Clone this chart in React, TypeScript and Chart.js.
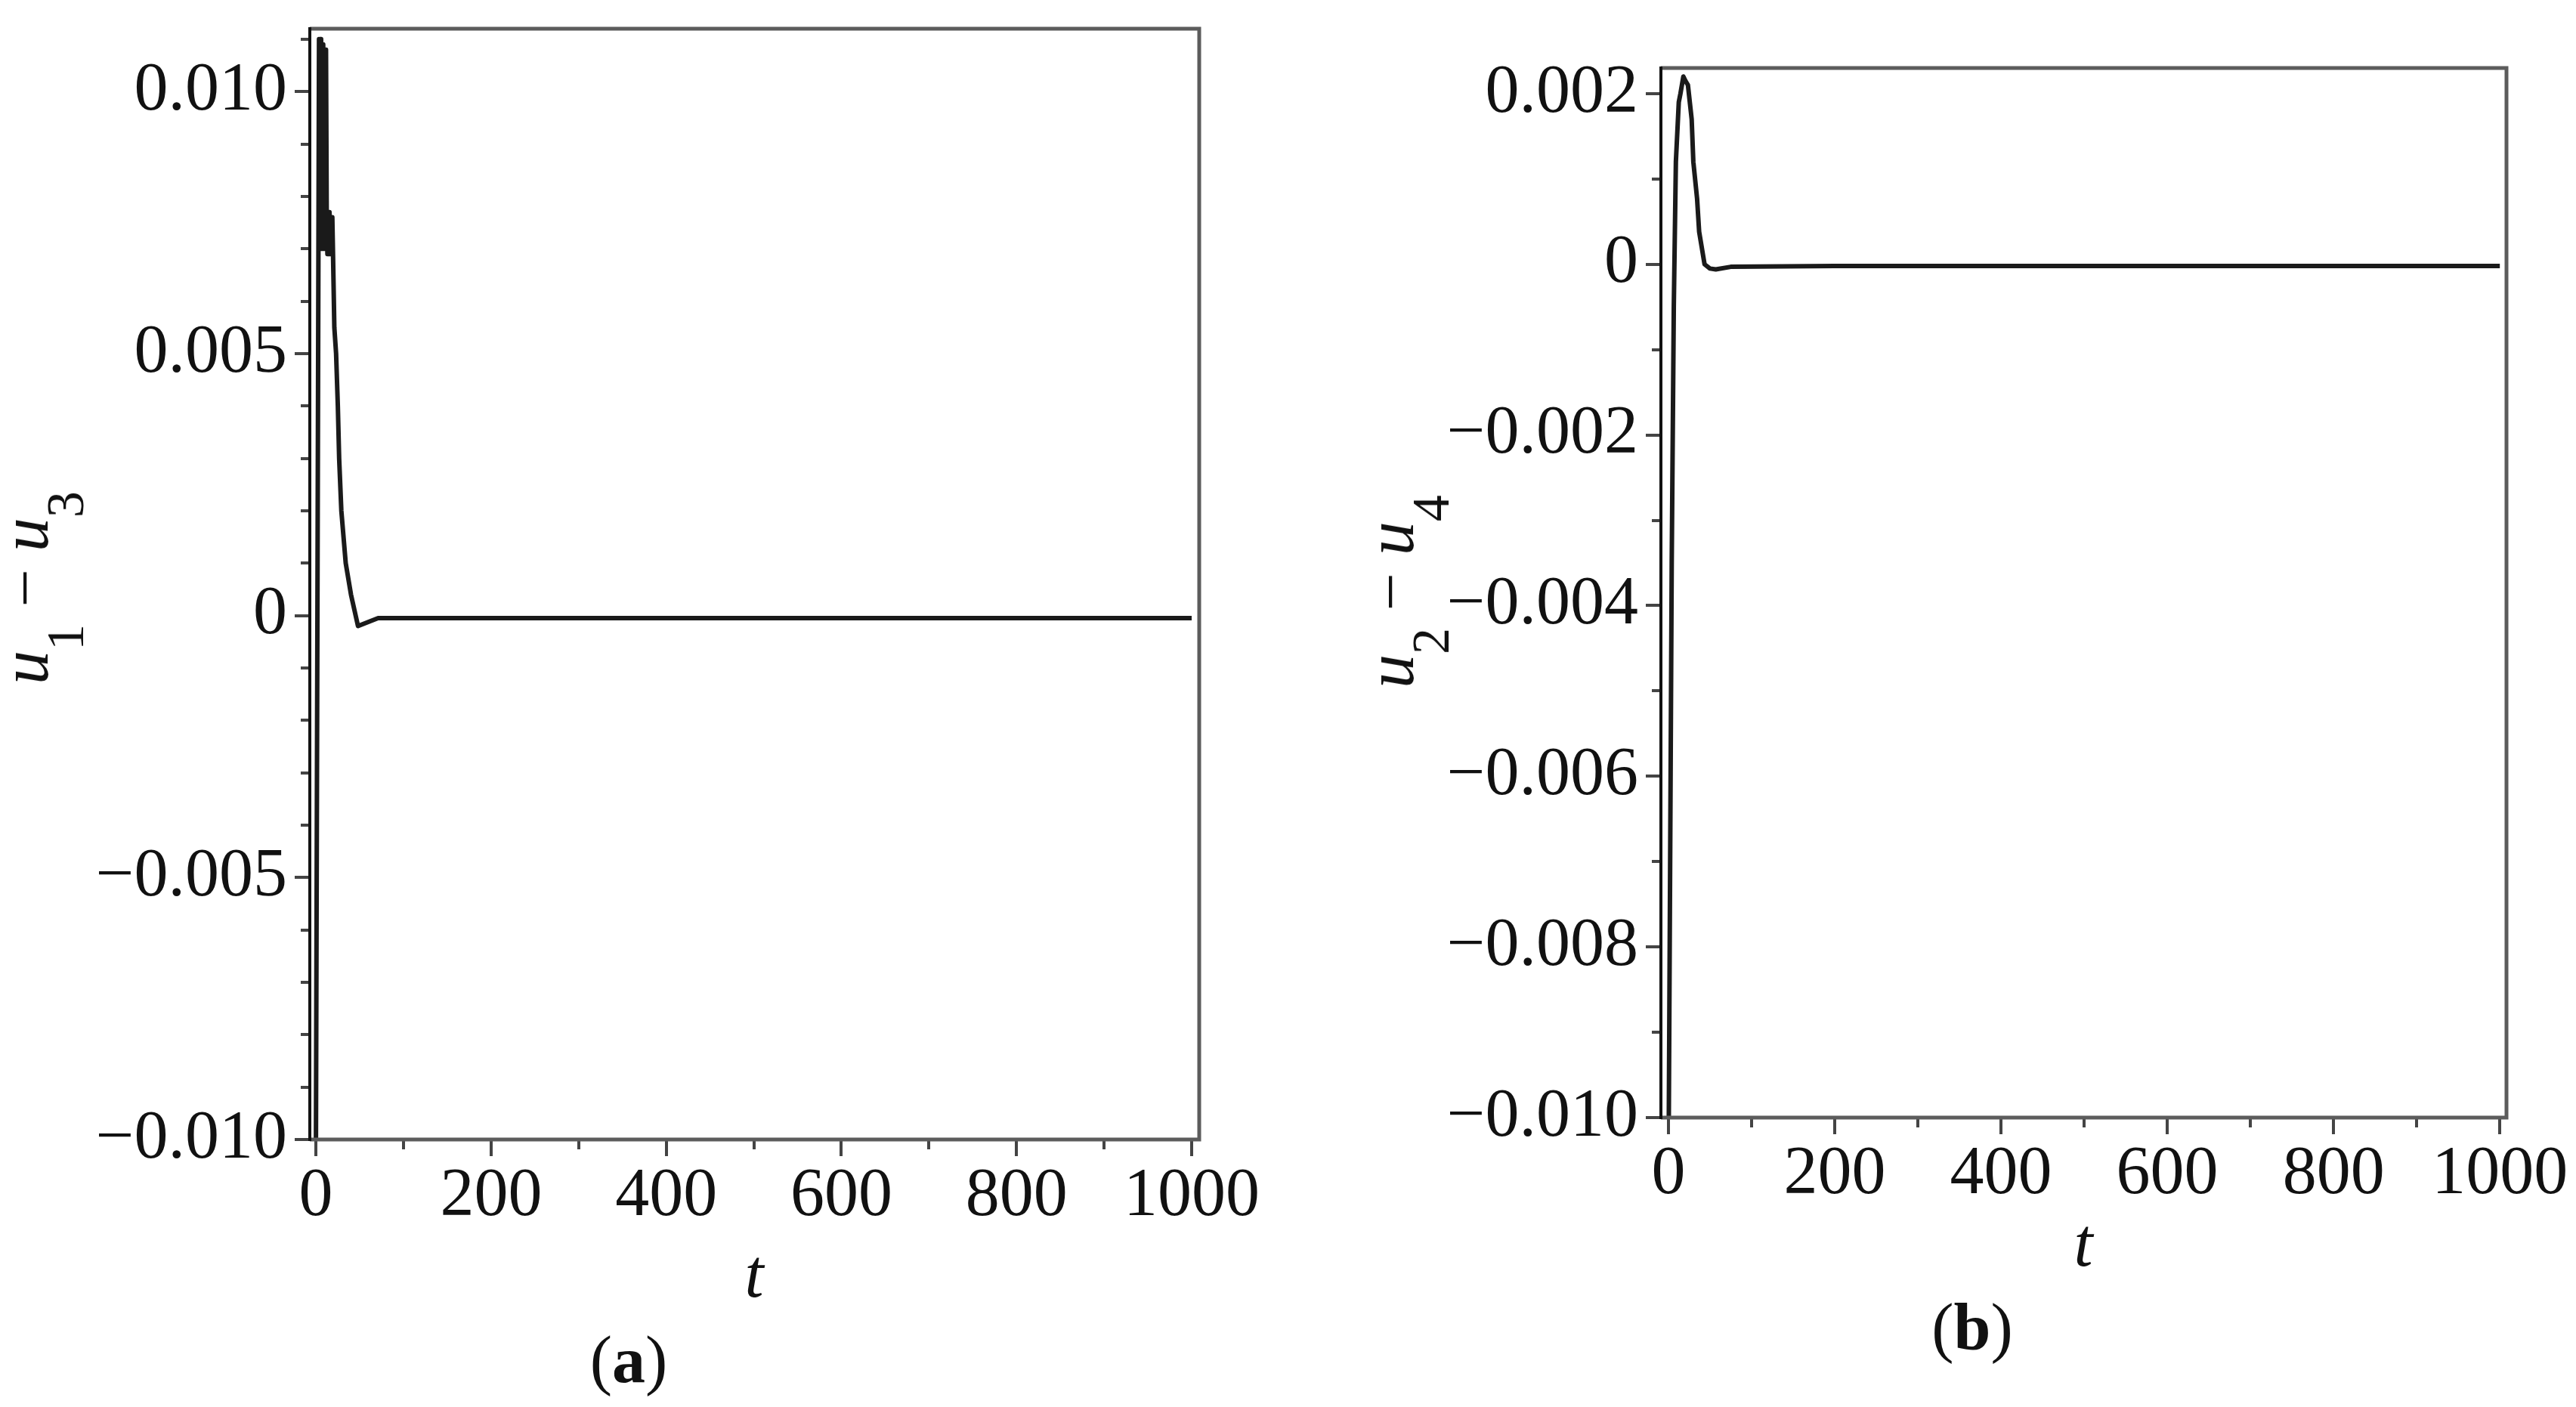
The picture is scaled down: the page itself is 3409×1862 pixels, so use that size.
import React, { useEffect, useRef } from "react";
import { Chart, registerables } from "chart.js";

Chart.register(...registerables);

// ---------- data ----------
const xTicks = [0, 100, 200, 300, 400, 500, 600, 700, 800, 900, 1000];
const xMajor = [0, 200, 400, 600, 800, 1000];

// panel (a): u1 - u3
const tA = [0, 3.5, 4.3, 5.1, 5.9, 6.7, 7.5, 8.3, 9.1, 9.9, 10.7, 11.5, 12.3, 13.1, 13.9, 14.7, 15.5, 16.3, 17.1, 17.9, 18.7, 19.5, 21, 23, 25, 26.5, 29, 34, 40, 48, 60, 71, 200, 400, 600, 800, 1000];
const uA = [-0.01, 0.011, 0.007, 0.011, 0.007, 0.0109, 0.007, 0.0109, 0.007, 0.0108, 0.007, 0.0108, 0.0077, 0.0069, 0.0077, 0.0069, 0.0077, 0.0069, 0.0076, 0.0069, 0.0076, 0.0069, 0.0055, 0.005, 0.004, 0.003, 0.002, 0.001, 0.0004, -0.0002, -0.00012, -0.00005, -0.00005, -0.00005, -0.00005, -0.00005, -0.00005];
const yTicksA = [-0.01, -0.009, -0.008, -0.007, -0.006, -0.005, -0.004, -0.003, -0.002, -0.001, 0, 0.001, 0.002, 0.003, 0.004, 0.005, 0.006, 0.007, 0.008, 0.009, 0.01, 0.011];
const yMajorA = [-0.01, -0.005, 0, 0.005, 0.01];

// panel (b): u2 - u4
const tB = [0.5, 4, 6.5, 9, 12.5, 14.5, 18, 20.5, 23.5, 28, 30, 34.5, 37, 43.5, 50, 57, 75, 200, 400, 600, 800, 1000];
const uB = [-0.01, -0.0035, -0.0005, 0.0012, 0.0019, 0.002, 0.0022, 0.00215, 0.0021, 0.0017, 0.0012, 0.00077, 0.00038, 0.0, -0.00005, -0.00006, -0.00003, -0.00002, -0.00002, -0.00002, -0.00002, -0.00002];
const yTicksB = [-0.01, -0.009, -0.008, -0.007, -0.006, -0.005, -0.004, -0.003, -0.002, -0.001, 0, 0.001, 0.002];
const yMajorB = [-0.01, -0.008, -0.006, -0.004, -0.002, 0, 0.002];

const SERIF = "'Liberation Serif', 'DejaVu Serif', serif";

function fmtY(v: number): string {
  if (v === 0) return "0";
  return (v < 0 ? "\u2212" : "") + Math.abs(v).toFixed(3);
}

function zeroPad(s: any) {
  s.paddingTop = 0;
  s.paddingBottom = 0;
  s.paddingLeft = 0;
  s.paddingRight = 0;
}

const framePlugin = {
  id: "frameTicks",
  afterDraw(chart: any) {
    const { ctx, chartArea: a, scales } = chart;
    const xs = scales.x;
    const ys = scales.y;
    const xm: number[] = chart.options.plugins.frameTicks.xMajor;
    const ym: number[] = chart.options.plugins.frameTicks.yMajor;
    ctx.save();
    ctx.strokeStyle = "#444";
    ctx.lineWidth = 4;
    ctx.beginPath();
    xs.ticks.forEach((t: any) => {
      const px = Math.round(xs.getPixelForValue(t.value));
      const len = xm.includes(t.value) ? 22 : 13;
      ctx.moveTo(px, a.bottom);
      ctx.lineTo(px, a.bottom + len);
    });
    ys.ticks.forEach((t: any) => {
      const py = Math.round(ys.getPixelForValue(t.value));
      const len = ym.includes(t.value) ? 20 : 12;
      ctx.moveTo(a.left, py);
      ctx.lineTo(a.left - len, py);
    });
    ctx.stroke();
    ctx.strokeStyle = "#5c5c5c";
    ctx.lineWidth = 5;
    ctx.beginPath();
    ctx.moveTo(a.left, a.top);
    ctx.lineTo(a.right, a.top);
    ctx.lineTo(a.right, a.bottom);
    ctx.lineTo(a.left, a.bottom);
    ctx.stroke();
    ctx.strokeStyle = "#111";
    ctx.lineWidth = 4;
    ctx.beginPath();
    ctx.moveTo(a.left, a.top - 2);
    ctx.lineTo(a.left, a.bottom + 2);
    ctx.stroke();
    ctx.restore();
  },
};

type PanelProps = {
  left: number;
  width: number;
  height: number;
  t: number[];
  u: number[];
  xMin: number;
  xMax: number;
  yMin: number;
  yMax: number;
  yTicks: number[];
  yMajor: number[];
  padTop: number;
  padRight: number;
  yAxisWidth: number;
  xAxisHeight: number;
};

function Panel(p: PanelProps) {
  const ref = useRef<HTMLCanvasElement | null>(null);
  useEffect(() => {
    if (!ref.current) return;
    const chart = new Chart(ref.current, {
      type: "line",
      data: {
        datasets: [
          {
            data: p.t.map((x, i) => ({ x, y: p.u[i] })),
            borderColor: "#1a1a1a",
            borderWidth: 6,
            borderJoinStyle: "round",
            pointRadius: 0,
            tension: 0,
            fill: false,
          },
        ],
      },
      options: {
        animation: false,
        responsive: false,
        devicePixelRatio: 1,
        layout: { padding: { top: p.padTop, right: p.padRight, left: 0, bottom: 0 } },
        plugins: {
          legend: { display: false },
          tooltip: { enabled: false },
          frameTicks: { xMajor, yMajor: p.yMajor },
        } as any,
        scales: {
          x: {
            type: "linear",
            min: p.xMin,
            max: p.xMax,
            afterBuildTicks: (s: any) => {
              s.ticks = xTicks.map((v) => ({ value: v }));
            },
            afterFit: (s: any) => {
              s.height = p.xAxisHeight;
              zeroPad(s);
            },
            grid: { display: false },
            border: { display: false },
            ticks: {
              autoSkip: false,
              maxRotation: 0,
              padding: 14,
              color: "#111",
              font: { family: SERIF, size: 90 },
              callback: (v: any) => (xMajor.includes(Number(v)) ? String(v) : ""),
            },
          },
          y: {
            type: "linear",
            min: p.yMin,
            max: p.yMax,
            afterBuildTicks: (s: any) => {
              s.ticks = p.yTicks.map((v) => ({ value: v }));
            },
            afterFit: (s: any) => {
              s.width = p.yAxisWidth;
              zeroPad(s);
            },
            grid: { display: false },
            border: { display: false },
            ticks: {
              autoSkip: false,
              padding: 22,
              color: "#111",
              font: { family: SERIF, size: 90 },
              callback: (v: any) => (p.yMajor.includes(Number(v)) ? fmtY(Number(v)) : ""),
            },
          },
        },
      },
      plugins: [framePlugin],
    } as any);
    return () => chart.destroy();
  }, []);
  return (
    <canvas
      ref={ref}
      width={p.width}
      height={p.height}
      style={{ position: "absolute", left: p.left, top: 0, width: p.width, height: p.height, display: "block" }}
    />
  );
}

const txt: React.CSSProperties = {
  position: "absolute",
  fontFamily: SERIF,
  lineHeight: 1,
  whiteSpace: "nowrap",
  color: "#111",
};
const sub: React.CSSProperties = { fontSize: 70, position: "relative", top: 47, fontStyle: "normal" };

function YLabel({ x, y, a, b }: { x: number; y: number; a: string; b: string }) {
  return (
    <div style={{ ...txt, left: x, top: y, fontSize: 90, transform: "translate(-50%,-50%) rotate(-90deg)" }}>
      <i>u</i>
      <span style={sub}>{a}</span>
      {" \u2212 "}
      <i>u</i>
      <span style={sub}>{b}</span>
    </div>
  );
}

export default function App() {
  return (
    <div style={{ position: "absolute", left: 0, top: 0, width: 3409, height: 1862, background: "#fff", overflow: "hidden" }}>
      <Panel
        left={0}
        width={1700}
        height={1862}
        t={tA}
        u={uA}
        xMin={-7}
        xMax={1008.6}
        yMin={-0.01}
        yMax={0.0112}
        yTicks={yTicksA}
        yMajor={yMajorA}
        padTop={38}
        padRight={113}
        yAxisWidth={410}
        xAxisHeight={1862 - 1508}
      />
      <Panel
        left={1700}
        width={1709}
        height={1862}
        t={tB}
        u={uB}
        xMin={-9}
        xMax={1008}
        yMin={-0.01}
        yMax={0.0023}
        yTicks={yTicksB}
        yMajor={yMajorB}
        padTop={90}
        padRight={92}
        yAxisWidth={498}
        xAxisHeight={1862 - 1479}
      />
      <YLabel x={33} y={778} a="1" b="3" />
      <YLabel x={1840} y={783} a="2" b="4" />
      <div style={{ ...txt, left: 998, top: 1686, fontSize: 90, fontStyle: "italic", transform: "translate(-50%,-50%)" }}>t</div>
      <div style={{ ...txt, left: 2757, top: 1645, fontSize: 90, fontStyle: "italic", transform: "translate(-50%,-50%)" }}>t</div>
      <div style={{ ...txt, left: 832, top: 1800, fontSize: 88, transform: "translate(-50%,-50%)" }}>
        (<b>a</b>)
      </div>
      <div style={{ ...txt, left: 2610, top: 1757, fontSize: 88, transform: "translate(-50%,-50%)" }}>
        (<b>b</b>)
      </div>
    </div>
  );
}
